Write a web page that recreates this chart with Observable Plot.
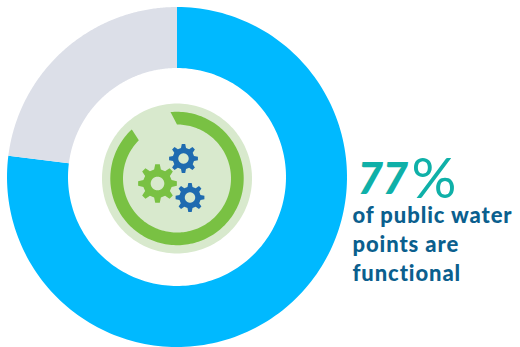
<!DOCTYPE html>
<html><head><meta charset="utf-8">
<script src="https://cdn.jsdelivr.net/npm/d3@7"></script>
<script src="https://cdn.jsdelivr.net/npm/@observablehq/plot@0.6"></script>
<style>html,body{margin:0;padding:0;background:#fff}svg{display:block}
.cap{letter-spacing:.9px}.big{letter-spacing:-.5px}</style>
</head><body><div id="c"></div>
<script>
const categories = ["Functional", "Not functional"];
const values = [77, 23];
const sliceColors = ["#00b9ff", "#dcdfe8"];
const headline = "77";
const percentSign = "%";
const captionLines = ["of public water", "points are", "functional"];

const W = 520, H = 347, CX = 176.5, CY = 176.5;
const R = 170, r0 = 109;
const pt = (a, r, ox = 0, oy = 0) => ({x: ox + r * Math.sin(a), y: oy - r * Math.cos(a)});
const rad = d => d * Math.PI / 180;
function arcBand(a0, a1, outer, inner, a0i = a0, a1i = a1) {
  const out = [], n = 180;
  for (let i = 0; i <= n; i++) out.push(pt(a0 + (a1 - a0) * i / n, outer));
  for (let i = n; i >= 0; i--) out.push(pt(a0i + (a1i - a0i) * i / n, inner));
  return out;
}
function disc(r, ox = 0, oy = 0) {
  return d3.range(181).map(i => pt(i * 2 * Math.PI / 180, r, ox, oy));
}
function gear(ox, oy, outer, root, teeth, rot = 0) {
  const out = [], step = 2 * Math.PI / teeth;
  for (let k = 0; k < teeth; k++) {
    const c = rot + k * step;
    out.push(pt(c - step * 0.30, root, ox, oy), pt(c - step * 0.15, outer, ox, oy),
             pt(c + step * 0.15, outer, ox, oy), pt(c + step * 0.30, root, ox, oy));
  }
  out.push(out[0]);
  return out;
}
const poly = (rows, fill) => Plot.line(rows, {x: "x", y: "y", fill, stroke: null, curve: "linear"});

const slices = d3.pie().sort(null)(values);
const textStyle = {fontFamily: "Lato, sans-serif", textAnchor: "start", lineAnchor: "bottom"};
const B = "#1f6bb0", G = "#79c143", P = "#d8e9cd";

const chart = Plot.plot({
  width: W, height: H, margin: 0,
  x: {domain: [-CX, W - CX], range: [0, W], axis: null},
  y: {domain: [-CY, H - CY], range: [0, H], axis: null},
  marks: [
    ...slices.map((s, i) => poly(arcBand(s.startAngle, s.endAngle, R, r0), sliceColors[i])),
    poly(disc(75, 0, 1.5), P),
    poly(arcBand(rad(-5.6), rad(-42.6) + 2 * Math.PI, 66.7, 54, rad(0), rad(-45) + 2 * Math.PI).map(d => ({x: d.x, y: d.y + 1.5})), G),
    poly(gear(-19.5, 6.5, 19.5, 14.5, 8), G),
    poly(disc(6.8, -19.5, 6.5), P),
    poly(gear(6.5, -18.5, 14.5, 10.8, 8), B),
    poly(disc(5.2, 6.5, -18.5), P),
    poly(gear(13, 20.5, 14.5, 10.8, 8), B),
    poly(disc(5.2, 13, 20.5), P),
    Plot.text([headline], {x: () => 357 - CX, y: () => 193 - CY, text: d => d, fill: "#0fb0a8", fontSize: 44, fontWeight: 900, fontStyle: "italic", className: "big", ...textStyle}),
    Plot.text([percentSign], {x: () => 411 - CX, y: () => 197 - CY, text: d => d, fill: "#0fb0a8", fontSize: 56, fontWeight: 400, ...textStyle}),
    Plot.text(captionLines, {x: () => 352 - CX, y: (d, i) => [222, 251, 280][i] - CY, text: d => d, fill: "#0b5f8e", fontSize: 22, fontWeight: 900, className: "cap", ...textStyle})
  ]
});
document.getElementById("c").append(chart);
</script></body></html>
